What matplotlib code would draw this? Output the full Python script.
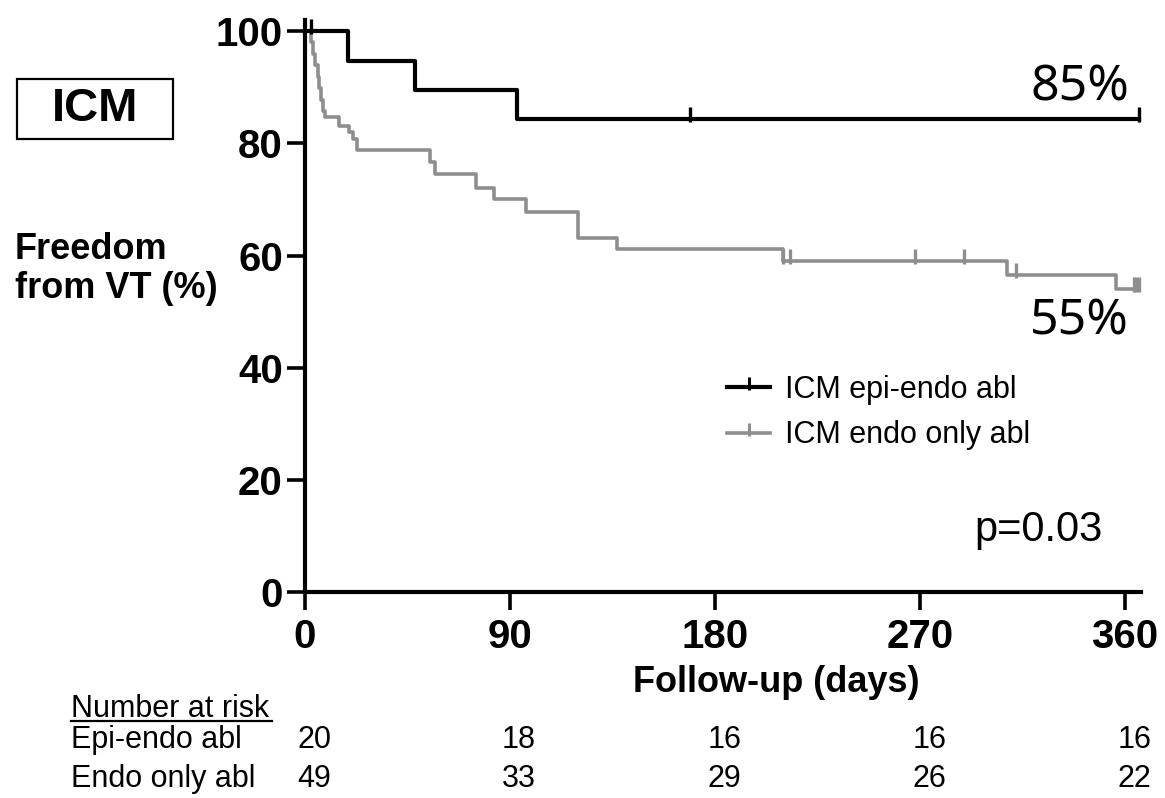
import matplotlib
matplotlib.use("Agg")
import matplotlib.pyplot as plt
from matplotlib.lines import Line2D
from matplotlib.patches import Rectangle
from matplotlib.path import Path
from matplotlib.transforms import blended_transform_factory

plt.rcParams["font.family"] = ["Liberation Sans", "DejaVu Sans"]

# Kaplan-Meier steps (day of event, % event-free after it)
epi_days = [0, 19, 48.5, 93]
epi_surv = [100, 94.7, 89.5, 84.3]
epi_cens_days = [2.5, 169, 366]
epi_cens_surv = [100, 84.3, 84.3]

endo_days = [0, 2.5, 3.5, 4.5, 5.5, 6.2, 6.9, 7.8, 9, 15, 19.5, 21, 23,
             55, 57, 75, 83, 97, 120, 137, 210, 308, 356]
endo_surv = [100, 98, 95.9, 93.9, 91.8, 89.8, 87.8, 85.7, 84.7, 83.1, 82, 80.7, 78.9,
             76.6, 74.5, 72.1, 70, 67.7, 63.2, 61.2, 59, 56.6, 54.1]
endo_cens_days = [210, 213, 268, 289.5, 312, 364, 365, 366]
endo_cens_surv = [59, 59, 59, 59, 56.6, 54.1, 54.1, 54.1]

last_day = 366
labels = ["ICM epi-endo abl", "ICM endo only abl"]
colors = ["black", "#8e8e8e"]

x_ticks = [0, 90, 180, 270, 360]
y_ticks = [0, 20, 40, 60, 80, 100]

risk_rows = ["Epi-endo abl", "Endo only abl"]
risk_epi = [20, 18, 16, 16, 16]
risk_endo = [49, 33, 29, 26, 22]

# censor tick: a short vertical bar sitting mostly above the curve
tick_mark = Path([(0, -0.25), (0, 1)], [Path.MOVETO, Path.LINETO])

fig = plt.figure(figsize=(11.65, 7.98), dpi=100)
ax = fig.add_axes([0.2618, 0.2581, 0.7176, 0.7168])

series = [
    (epi_days, epi_surv, epi_cens_days, epi_cens_surv, 3.0),
    (endo_days, endo_surv, endo_cens_days, endo_cens_surv, 2.6),
]
handles = []
for (d, s, cd, cs, lw), col, lab in zip(series, colors, labels):
    ax.step(d + [last_day], s + [s[-1]], where="post", color=col, lw=lw,
            clip_on=False, zorder=3 if col == "black" else 2)
    ax.plot(cd, cs, ls="none", marker=tick_mark, ms=17, mew=2.4,
            color=col, clip_on=False, zorder=3)
    handles.append(Line2D([], [], color=col, lw=lw, marker=tick_mark,
                          ms=15, mew=2.2, label=lab))

ax.set_xlim(0, 367)
ax.set_ylim(0, 102)
ax.set_xticks(x_ticks)
ax.set_yticks(y_ticks)
for sp in ["top", "right"]:
    ax.spines[sp].set_visible(False)
for sp in ["left", "bottom"]:
    ax.spines[sp].set_linewidth(3)
ax.tick_params(axis="both", length=13, width=2.6, labelsize=29)
ax.tick_params(axis="x", pad=6)
ax.tick_params(axis="y", pad=3)
for t in ax.get_xticklabels() + ax.get_yticklabels():
    t.set_fontweight("bold")

ax.set_xlabel("Follow-up (days)", fontsize=26, fontweight="bold")
ax.xaxis.label.set_va("center")
ax.xaxis.set_label_coords(0.5634, -0.159)

ax.legend(handles=handles, loc="upper left", bbox_to_anchor=(0.505, 0.3795),
          frameon=False, fontsize=22, handlelength=1.4, handletextpad=0.5,
          labelspacing=0.5, borderpad=0, borderaxespad=0, numpoints=1)

ax.text(340, 90, "85%", fontsize=36, family=["Noto Sans", "DejaVu Sans"],
        ha="center", va="center")
ax.text(340, 48.2, "55%", fontsize=36, family=["Noto Sans", "DejaVu Sans"],
        ha="center", va="center")
ax.text(322, 11.1, "p=0.03", fontsize=30, ha="center", va="center")

# y label and the ICM box
fig.text(15 / 1165, 1 - 269 / 798, "Freedom\nfrom VT (%)", fontsize=26,
         fontweight="bold", ha="left", va="center", linespacing=1.15)
fig.add_artist(Rectangle((17 / 1165, 1 - 139 / 798), 156 / 1165, 60 / 798,
                         transform=fig.transFigure, fill=False, lw=1.6,
                         edgecolor="black"))
fig.text(95 / 1165, 1 - 109 / 798, "ICM", fontsize=34, fontweight="bold",
         ha="center", va="center")

# number at risk table
fig.text(71 / 1165, 1 - 709 / 798, "Number at risk", fontsize=22,
         ha="left", va="center")
fig.add_artist(Line2D([71 / 1165, 272 / 1165], [1 - 721 / 798] * 2,
                      transform=fig.transFigure, color="black", lw=1.6))
trans = blended_transform_factory(ax.transData, fig.transFigure)
row_y = [1 - 740 / 798, 1 - 779 / 798]
for name, counts, y in zip(risk_rows, [risk_epi, risk_endo], row_y):
    fig.text(71 / 1165, y, name, fontsize=22, ha="left", va="center")
    for d, n in zip(x_ticks, counts):
        ax.text(d + 4, y, str(n), fontsize=22, ha="center", va="center",
                transform=trans, clip_on=False)

fig.savefig("out.png", dpi=100)
